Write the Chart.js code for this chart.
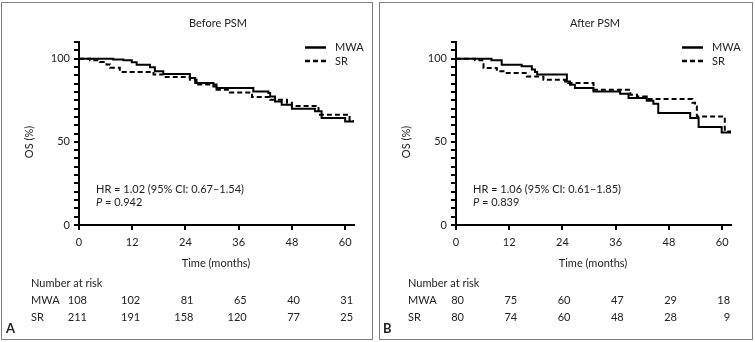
<!DOCTYPE html>
<html>
<head>
<meta charset="utf-8">
<script src="https://cdn.jsdelivr.net/npm/chart.js@4"></script>
<style>
  body { margin: 0; background: #fff; }
  #wrap { position: relative; width: 755px; height: 342px; }
  canvas { position: absolute; top: 0; }
  .frame { position: absolute; top: 2px; height: 338px; border: 1px solid #808080; box-sizing: border-box; }
</style>
</head>
<body>
<div id="wrap">
  <canvas id="chartA" width="377" height="342" style="left:0"></canvas>
  <canvas id="chartB" width="378" height="342" style="left:377px"></canvas>
  <div class="frame" style="left:1px; width:372px"></div>
  <div class="frame" style="left:379px; width:374px"></div>
</div>
<script>
// 시간축 눈금과 위험 인원 시점
const riskTimes = [0, 12, 24, 36, 48, 60];
const yTickLabels = [0, 50, 100];
const groups = ['MWA', 'SR'];

// Before PSM - 생존곡선 (개월, OS %)
const beforeMwaTime = [0, 7.7, 10, 11.9, 13, 16, 17.1, 19, 25, 26.2, 30.3, 31, 39.3, 42.7, 43.1, 44.2, 45.7, 48, 53.2, 54.7, 60, 62.3];
const beforeMwaOs   = [100, 99.5, 99, 97.8, 96.4, 94.8, 92.4, 90.8, 88.4, 85.3, 83.3, 82.3, 80.3, 79.3, 77.3, 74.3, 72.3, 69.9, 68.3, 64.3, 62.2, 62.2];
const beforeSrTime  = [0, 2.5, 4.7, 6.2, 7, 9.2, 16.8, 19, 25, 26.5, 31, 34, 39, 43.1, 46.9, 48, 54, 61, 62.3];
const beforeSrOs    = [100, 99, 98, 96.5, 94.5, 92, 90.5, 89, 87.3, 84.5, 81.3, 79.7, 77, 75.3, 73.5, 71.5, 66.3, 62.5, 62.5];

// After PSM
const afterMwaTime = [0, 8, 10.3, 14.8, 17.1, 17.8, 18.3, 25, 25.7, 26.8, 31, 37, 38.9, 43, 44.5, 45.6, 52.8, 54.7, 59.9, 62.2];
const afterMwaOs   = [100, 99, 96.4, 95.4, 93.4, 92, 90.4, 86.3, 84.3, 82.3, 80.3, 78.9, 76.3, 74.7, 72.9, 67.3, 64.3, 58.9, 55.6, 55.6];
const afterSrTime  = [0, 4.3, 6.2, 9.2, 10.7, 16, 19.7, 24.6, 25.3, 31, 39.3, 40.8, 43, 53.3, 53.9, 54.3, 60.6, 62.2];
const afterSrOs    = [100, 99, 94.4, 92.4, 91.4, 89.3, 87.3, 86.3, 85.3, 81.3, 78.3, 77.3, 75.7, 73.5, 71.3, 65.2, 56.2, 56.2];

// Number at risk
const beforeRiskMwa = [108, 102, 81, 65, 40, 31];
const beforeRiskSr  = [211, 191, 158, 120, 77, 25];
const afterRiskMwa  = [80, 75, 60, 47, 29, 18];
const afterRiskSr   = [80, 74, 60, 48, 28, 9];

const FONT = 'Lato';
const INK = '#222';

function toPoints(ts, ys) {
    return ts.map((t, i) => ({ x: t, y: ys[i] }));
}

function makePanel(id, title, letter, hr, p, mwa, sr, riskRows) {
    const canvas = document.getElementById(id);
    const W = canvas.width;

    // 텍스트, 범례, 위험 인원표 그리기
    const textPlugin = {
        id: 'kmText',
        afterDraw(chart) {
            const ctx = chart.ctx;
            const xs = chart.scales.x;
            ctx.save();
            ctx.fillStyle = INK;
            ctx.textBaseline = 'middle';
            ctx.font = '11px ' + FONT;

            ctx.textAlign = 'center';
            ctx.fillText(title, 218, 23);
            ctx.fillText('Time (months)', 216, 263);

            // y축 제목
            ctx.save();
            ctx.translate(29, 142);
            ctx.rotate(-Math.PI / 2);
            ctx.fillText('OS (%)', 0, 0);
            ctx.restore();

            // 범례
            ctx.textAlign = 'left';
            chart.data.datasets.forEach((ds, i) => {
                const y = 47.5 + i * 13.5;
                ctx.save();
                ctx.strokeStyle = '#000';
                ctx.lineWidth = 2.5;
                ctx.setLineDash(ds.borderDash || []);
                ctx.beginPath();
                ctx.moveTo(305, y);
                ctx.lineTo(326, y);
                ctx.stroke();
                ctx.restore();
                ctx.fillText(ds.label, 335, y);
            });

            // HR, P
            ctx.fillText(hr, 96, 189);
            ctx.font = 'italic 11px ' + FONT;
            ctx.fillText('P', 96, 202);
            const pw = ctx.measureText('P').width;
            ctx.font = '11px ' + FONT;
            ctx.fillText(' = ' + p, 96 + pw, 202);

            // Number at risk
            ctx.fillText('Number at risk', 31, 283);
            riskRows.forEach((row, r) => {
                const y = 300 + r * 17;
                ctx.textAlign = 'left';
                ctx.fillText(groups[r], 31, y);
                ctx.textAlign = 'right';
                row.forEach((n, i) => {
                    ctx.fillText(String(n), xs.getPixelForValue(riskTimes[i]) + 8, y);
                });
            });

            // 패널 문자
            ctx.textAlign = 'left';
            ctx.font = 'bold 13px ' + FONT;
            ctx.fillText(letter, 6, 329);
            ctx.restore();
        }
    };

    return new Chart(canvas, {
        type: 'line',
        data: {
            datasets: [{
                label: groups[0],
                data: mwa,
                borderColor: '#000',
                borderWidth: 2,
                stepped: true,
                pointRadius: 0
            }, {
                label: groups[1],
                data: sr,
                borderColor: '#000',
                borderWidth: 2,
                borderDash: [5, 3],
                stepped: true,
                pointRadius: 0
            }]
        },
        options: {
            responsive: false,
            animation: false,
            events: [],
            layout: {
                padding: { left: 0, top: 42, right: W - 354, bottom: 0 }
            },
            plugins: {
                legend: { display: false },
                tooltip: { enabled: false }
            },
            scales: {
                x: {
                    type: 'linear',
                    min: 0,
                    max: 62,
                    afterFit(scale) { scale.height = 117; },
                    border: { color: '#000', width: 2 },
                    grid: { drawOnChartArea: false, drawTicks: true, tickLength: 5, color: '#000', lineWidth: 2 },
                    ticks: {
                        stepSize: 12,
                        includeBounds: false,
                        autoSkip: false,
                        maxRotation: 0,
                        padding: 6,
                        color: INK,
                        font: { family: FONT, size: 11 }
                    }
                },
                y: {
                    min: 0,
                    max: 110,
                    afterFit(scale) { scale.width = 79; },
                    border: { color: '#000', width: 2 },
                    grid: { drawOnChartArea: false, drawTicks: true, tickLength: 5, color: '#000', lineWidth: 2 },
                    ticks: {
                        stepSize: 5,
                        autoSkip: false,
                        padding: 4,
                        color: INK,
                        font: { family: FONT, size: 11 },
                        callback: v => yTickLabels.includes(v) ? String(v) : ''
                    }
                }
            }
        },
        plugins: [textPlugin]
    });
}

makePanel('chartA', 'Before PSM', 'A', 'HR = 1.02 (95% CI: 0.67\u20131.54)', '0.942',
    toPoints(beforeMwaTime, beforeMwaOs), toPoints(beforeSrTime, beforeSrOs),
    [beforeRiskMwa, beforeRiskSr]);

makePanel('chartB', 'After PSM', 'B', 'HR = 1.06 (95% CI: 0.61\u20131.85)', '0.839',
    toPoints(afterMwaTime, afterMwaOs), toPoints(afterSrTime, afterSrOs),
    [afterRiskMwa, afterRiskSr]);
</script>
</body>
</html>
